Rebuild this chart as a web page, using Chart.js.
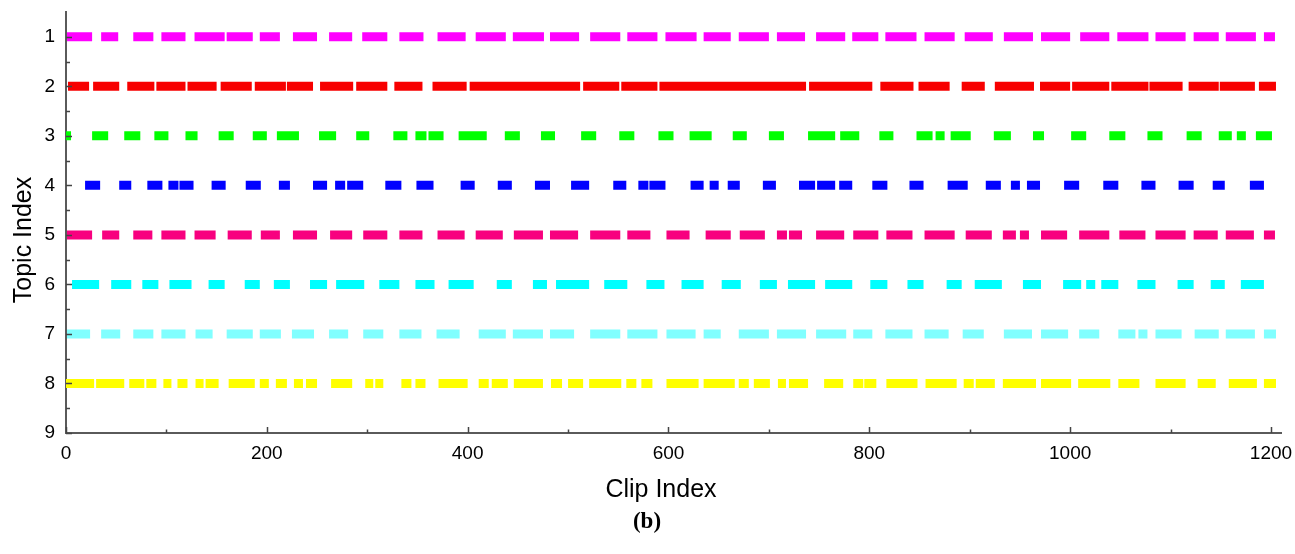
<!DOCTYPE html>
<html><head><meta charset="utf-8">
<script src="https://cdn.jsdelivr.net/npm/chart.js@4/dist/chart.umd.min.js"></script>
<style>html,body{margin:0;padding:0;background:#fff}</style>
</head><body>
<canvas id="c" width="1295" height="554"></canvas>
<script>
// ---- data ----
const topicIds = [1, 2, 3, 4, 5, 6, 7, 8];
const topicColors = ['#ff00ff', '#f70000', '#00ff00', '#0000ff', '#f8007f', '#00ffff', '#80ffff', '#ffff00'];
const xTicks = [0, 200, 400, 600, 800, 1000, 1200];
const xMinorTicks = [100, 300, 500, 700, 900, 1100];
const yTicks = [1, 2, 3, 4, 5, 6, 7, 8, 9];
const yMinorTicks = [1.5, 2.5, 3.5, 4.5, 5.5, 6.5, 7.5, 8.5];
const xTitle = 'Clip Index';
const yTitle = 'Topic Index';
const caption = '(b)';

const topic1 = [[1,26],[35,52],[67,87],[95,119],[128,158],[160,186],[193,213],[226,250],[262,285],[295,320],[332,356],[370,398],[408,438],[445,476],[482,511],[522,552],[559,589],[597,628],[635,662],[670,700],[708,736],[747,776],[783,809],[816,847],[855,885],[895,923],[934,963],[971,1000],[1010,1039],[1047,1078],[1085,1115],[1123,1148],[1155,1185],[1193,1204]];
const topic2 = [[2,23],[27,53],[61,88],[90,119],[121,150],[154,185],[188,219],[220,246],[253,286],[289,320],[327,355],[365,399],[402,512],[515,551],[553,589],[591,737],[740,803],[811,844],[849,880],[892,915],[925,964],[970,1000],[1002,1039],[1041,1078],[1079,1112],[1118,1148],[1149,1184],[1188,1205]];
const topic3 = [[0,5],[26,42],[58,74],[88,102],[119,131],[152,167],[186,200],[210,232],[252,269],[289,302],[326,340],[348,359],[361,376],[391,419],[437,452],[473,487],[513,528],[551,566],[590,605],[621,643],[664,678],[700,715],[739,766],[771,790],[810,824],[847,863],[866,875],[881,901],[924,941],[963,974],[1001,1016],[1039,1055],[1077,1092],[1116,1131],[1148,1161],[1166,1175],[1185,1201]];
const topic4 = [[19,34],[53,65],[81,96],[102,112],[113,127],[145,159],[179,194],[212,223],[246,260],[268,278],[280,296],[318,334],[349,366],[393,407],[430,444],[467,482],[503,521],[545,558],[570,580],[581,597],[622,635],[641,650],[659,671],[694,707],[730,746],[748,766],[770,783],[803,818],[840,854],[878,898],[916,931],[941,950],[957,970],[994,1009],[1033,1048],[1071,1085],[1108,1123],[1142,1154],[1179,1193]];
const topic5 = [[1,26],[36,53],[67,86],[95,119],[128,149],[161,185],[194,213],[226,250],[263,285],[296,320],[332,355],[370,397],[408,435],[446,475],[482,510],[522,552],[559,582],[598,621],[637,662],[671,696],[708,718],[720,733],[747,775],[784,809],[817,843],[855,885],[896,922],[933,946],[950,959],[971,997],[1009,1039],[1049,1075],[1085,1115],[1123,1147],[1155,1183],[1193,1204]];
const topic6 = [[6,33],[45,65],[76,92],[103,125],[142,158],[178,193],[207,223],[243,260],[269,297],[312,332],[348,367],[381,406],[429,444],[465,479],[488,521],[536,559],[578,596],[613,635],[653,672],[691,708],[719,746],[756,783],[801,818],[838,854],[877,892],[905,932],[953,971],[993,1011],[1016,1025],[1031,1048],[1067,1085],[1107,1123],[1140,1154],[1170,1193]];
const topic7 = [[1,24],[35,54],[67,87],[95,119],[129,146],[160,186],[193,214],[225,247],[262,281],[296,316],[332,354],[369,392],[411,438],[445,475],[482,506],[522,552],[559,589],[598,627],[635,652],[670,700],[708,737],[747,777],[784,803],[816,843],[855,879],[893,914],[934,962],[971,998],[1009,1029],[1048,1065],[1068,1077],[1085,1111],[1124,1148],[1155,1184],[1193,1205]];
const topic8 = [[0,28],[30,58],[63,78],[80,90],[97,105],[111,121],[129,137],[139,152],[162,188],[193,202],[209,220],[227,236],[239,250],[264,285],[298,306],[308,316],[334,344],[348,358],[371,400],[411,421],[424,440],[446,475],[483,494],[500,515],[521,553],[558,568],[573,584],[598,630],[635,666],[670,680],[685,701],[709,717],[720,739],[755,774],[784,794],[795,807],[817,848],[856,887],[894,904],[906,925],[933,966],[971,1001],[1008,1040],[1048,1069],[1085,1115],[1127,1145],[1158,1186],[1193,1205]];

const topicSegments = [topic1, topic2, topic3, topic4, topic5, topic6, topic7, topic8];

// build line datasets: each segment = two points, separated by a null gap
const datasets = topicSegments.map((segs, i) => {
  const pts = [];
  segs.forEach(([s, e]) => {
    pts.push({x: s, y: topicIds[i]});
    pts.push({x: e, y: topicIds[i]});
    pts.push({x: e + 0.01, y: null});
  });
  return {
    label: 'Topic ' + topicIds[i],
    data: pts,
    borderColor: topicColors[i],
    backgroundColor: topicColors[i],
    borderWidth: 9,
    borderCapStyle: 'butt',
    pointRadius: 0,
    pointHoverRadius: 0,
    spanGaps: false,
    tension: 0,
    fill: false
  };
});

const FONT = "'Liberation Sans', Arial, sans-serif";

const decorPlugin = {
  id: 'decor',
  afterDraw(chart) {
    const ctx = chart.ctx, xs = chart.scales.x, ys = chart.scales.y;
    const bottom = chart.chartArea.bottom, left = chart.chartArea.left;
    ctx.save();
    ctx.strokeStyle = '#444';
    ctx.lineWidth = 1.5;
    ctx.beginPath();
    xTicks.forEach(v => { const p = Math.round(xs.getPixelForValue(v)) + 0.5; ctx.moveTo(p, bottom); ctx.lineTo(p, bottom - 6); });
    xMinorTicks.forEach(v => { const p = Math.round(xs.getPixelForValue(v)) + 0.5; ctx.moveTo(p, bottom); ctx.lineTo(p, bottom - 3.5); });
    yTicks.forEach(v => { const p = Math.round(ys.getPixelForValue(v)) + 0.5; ctx.moveTo(left, p); ctx.lineTo(left + 6, p); });
    yMinorTicks.forEach(v => { const p = Math.round(ys.getPixelForValue(v)) + 0.5; ctx.moveTo(left, p); ctx.lineTo(left + 4, p); });
    ctx.stroke();
    // axis titles and caption
    ctx.fillStyle = '#000';
    ctx.textAlign = 'center';
    ctx.textBaseline = 'middle';
    ctx.font = "25px " + FONT;
    ctx.fillText(xTitle, 661, 490);
    ctx.save();
    ctx.translate(24, 240);
    ctx.rotate(-Math.PI / 2);
    ctx.fillText(yTitle, 0, 0);
    ctx.restore();
    ctx.font = "bold 23px 'Liberation Serif', 'Times New Roman', serif";
    ctx.fillText(caption, 647, 522);
    ctx.restore();
  }
};

new Chart(document.getElementById('c'), {
  type: 'line',
  data: { datasets },
  plugins: [decorPlugin],
  options: {
    responsive: false,
    devicePixelRatio: 1,
    animation: false,
    events: [],
    layout: { padding: { left: 0, right: 14, top: 12, bottom: 0 } },
    plugins: { legend: { display: false }, tooltip: { enabled: false }, title: { display: false } },
    scales: {
      x: {
        type: 'linear',
        min: 0,
        max: 1210,
        afterBuildTicks: s => { s.ticks = xTicks.map(v => ({ value: v })); },
        afterFit: s => { s.height = 121; s.paddingLeft = 0; s.paddingRight = 0; },
        grid: { display: false, drawTicks: false },
        border: { display: true, color: '#5a5a5a', width: 2 },
        ticks: { color: '#000', font: { family: FONT, size: 19 }, padding: 9, maxRotation: 0, autoSkip: false, callback: v => String(v) }
      },
      y: {
        type: 'linear',
        reverse: true,
        min: 0.5,
        max: 9,
        afterBuildTicks: s => { s.ticks = yTicks.map(v => ({ value: v })); },
        afterFit: s => { s.width = 66; s.paddingTop = 0; s.paddingBottom = 0; },
        grid: { display: false, drawTicks: false },
        border: { display: true, color: '#5a5a5a', width: 2 },
        ticks: { color: '#000', font: { family: FONT, size: 19 }, padding: 11, autoSkip: false, callback: v => String(v) }
      }
    }
  }
});
</script>
</body></html>
